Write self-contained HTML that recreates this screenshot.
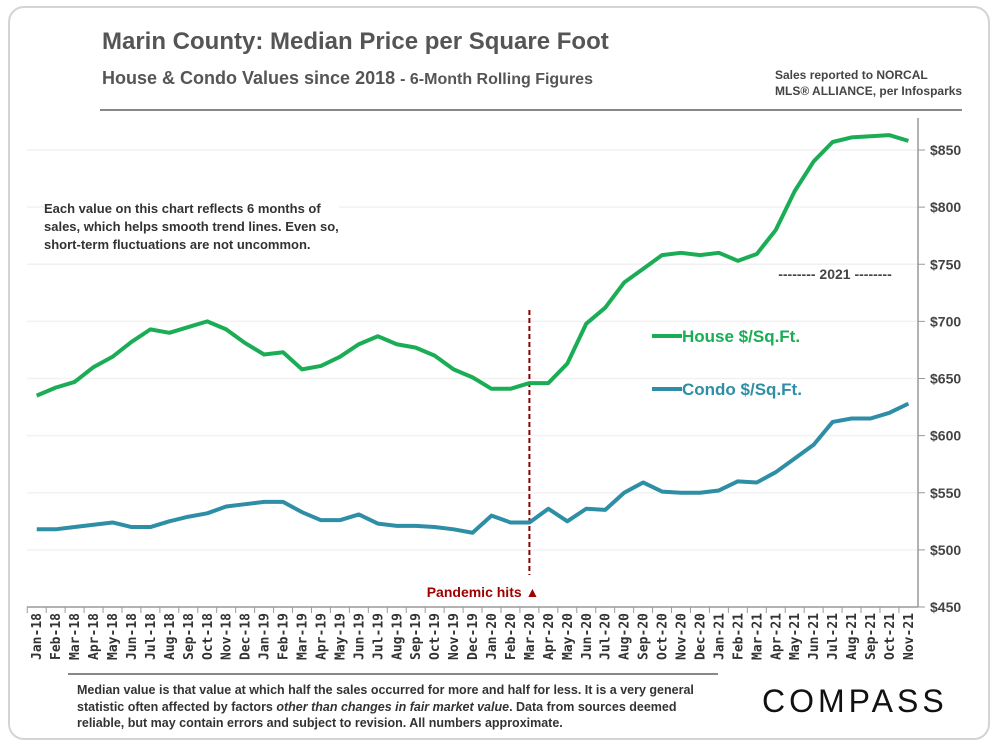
<!DOCTYPE html>
<html><head><meta charset="utf-8">
<style>
body{margin:0;width:1000px;height:750px;background:#fff;font-family:"Liberation Sans",sans-serif;overflow:hidden;position:relative}
.frame{position:absolute;left:8px;top:6px;width:982px;height:734px;border:2px solid #d4d4d4;border-radius:16px;box-sizing:border-box}
.t{position:absolute;white-space:nowrap}
</style></head><body>
<div class="frame"></div>
<svg id="chart" width="1000" height="750" style="position:absolute;left:0;top:0"></svg>
<div class="t" style="left:102px;top:28px;font-size:24px;font-weight:bold;color:#555">Marin County: Median Price per Square Foot</div>
<div class="t" style="left:102px;top:68px;font-size:18px;font-weight:bold;color:#555">House &amp; Condo Values since 2018 <span style="font-size:16px">- 6-Month Rolling Figures</span></div>
<div class="t" style="left:775px;top:67px;font-size:12px;font-weight:bold;color:#444;line-height:16px">Sales reported to NORCAL<br>MLS® ALLIANCE, per Infosparks</div>
<div class="t" style="left:100px;top:109px;width:862px;height:2px;background:#888"></div>
<div class="t" style="left:44px;top:200px;font-size:13px;font-weight:bold;color:#333;line-height:18px;background:#fff">Each value on this chart reflects 6 months of<br>sales, which helps smooth trend lines. Even so,<br>short-term fluctuations are not uncommon.</div>
<div class="t" style="left:68px;top:673px;width:650px;height:2px;background:#888"></div>
<div class="t" style="left:77px;top:682px;font-size:12.5px;color:#333;line-height:16.5px;font-weight:bold">Median value is that value at which half the sales occurred for more and half for less. It is a very general<br>statistic often affected by factors <i>other than changes in fair market value</i>. Data from sources deemed<br>reliable, but may contain errors and subject to revision. All numbers approximate.</div>
<div class="t" style="left:762px;top:683px;font-size:32px;letter-spacing:4px;color:#111">COMPASS</div>
<script>
const months=["Jan","Feb","Mar","Apr","May","Jun","Jul","Aug","Sep","Oct","Nov","Dec"];
const categories=[];
for(let y=18;y<=21;y++)for(let m=0;m<12;m++){if(y===21&&m>10)break;categories.push(months[m]+"-"+y);}
const houseValues=[635,642,647,660,669,682,693,690,695,700,693,681,671,673,658,661,669,680,687,680,677,670,658,651,641,641,646,646,663,698,712,734,746,758,760,758,760,753,759,780,814,840,857,861,862,863,858];
const condoValues=[518,518,520,522,524,520,520,525,529,532,538,540,542,542,533,526,526,531,523,521,521,520,518,515,530,524,524,536,525,536,535,550,559,551,550,550,552,560,559,568,580,592,612,615,615,620,628];
const yTicks=[450,500,550,600,650,700,750,800,850];
const pandemicIndex=26;
const svg=document.getElementById('chart');
const NS="http://www.w3.org/2000/svg";
const x0=36.7,step=18.95,yBase=607,yPx=1.1425;
const X=i=>x0+i*step, Y=v=>yBase-(v-450)*yPx;
function mk(t,a){const e=document.createElementNS(NS,t);for(const k in a)e.setAttribute(k,a[k]);svg.appendChild(e);return e;}
yTicks.forEach(v=>{
 if(v>450){const g=mk('line',{x1:27,x2:918,y1:Y(v),y2:Y(v),stroke:'#f2f2f2','stroke-width':1.5});
 
 }
 const tk=mk('line',{x1:918,x2:925,y1:Y(v),y2:Y(v),stroke:'#999'});
 
 
 const t=mk('text',{x:930,y:Y(v)+5,'font-size':14,'font-weight':'bold',fill:'#444','font-family':'Liberation Sans, sans-serif'});
 t.textContent='$'+v;
 
 
});
const ya=mk('line',{x1:918,x2:918,y1:118,y2:607,stroke:'#999','stroke-width':1.5});


const xa=mk('line',{x1:27,x2:918,y1:607,y2:607,stroke:'#999','stroke-width':1.5});


categories.forEach((c,i)=>{
 const tk=mk('line',{x1:X(i)-step/2,x2:X(i)-step/2,y1:607,y2:613,stroke:'#999'});
 
 
 const t=mk('text',{x:0,y:0,'font-size':13,'font-weight':'bold',fill:'#333','text-anchor':'end','font-family':'DejaVu Sans Mono, monospace',transform:`translate(${X(i)+4.5},613) rotate(-90)`});
 t.textContent=c;
 
 
});
const pl=mk('line',{x1:X(pandemicIndex),x2:X(pandemicIndex),y1:310,y2:575,stroke:'#8b0000','stroke-width':2,'stroke-dasharray':'5,3'});


const pt=mk('text',{x:X(pandemicIndex)+10,y:597,'font-size':14,'font-weight':'bold',fill:'#a00000','text-anchor':'end','font-family':'Liberation Sans, sans-serif'});
pt.textContent='Pandemic hits ▲';


function series(vals,col,name){
 const p=mk('polyline',{points:vals.map((v,i)=>X(i)+','+Y(v)).join(' '),fill:'none',stroke:col,'stroke-width':4,'stroke-linejoin':'round'});
 
 
}
series(condoValues,'#2e8ea6','condo-line');
series(houseValues,'#1aad55','house-line');
const yr=mk('text',{x:835,y:279,'font-size':14,'font-weight':'bold',fill:'#444','text-anchor':'middle','font-family':'Liberation Sans, sans-serif'});
yr.textContent='-------- 2021 --------';


[['#1aad55','House $/Sq.Ft.',336,'legend-house'],['#2e8ea6','Condo $/Sq.Ft.',389,'legend-condo']].forEach(([c,l,y,n])=>{
 const g=mk('g',{});
 
 
 const ln=document.createElementNS(NS,'line');
 ln.setAttribute('x1',652);ln.setAttribute('x2',682);ln.setAttribute('y1',y);ln.setAttribute('y2',y);ln.setAttribute('stroke',c);ln.setAttribute('stroke-width',4);
 g.appendChild(ln);
 const t=document.createElementNS(NS,'text');
 t.setAttribute('x',682);t.setAttribute('y',y+6);t.setAttribute('font-size',17);t.setAttribute('font-weight','bold');t.setAttribute('fill',c);t.setAttribute('font-family','Liberation Sans, sans-serif');
 t.textContent=l;g.appendChild(t);
});
</script>
</body></html>
